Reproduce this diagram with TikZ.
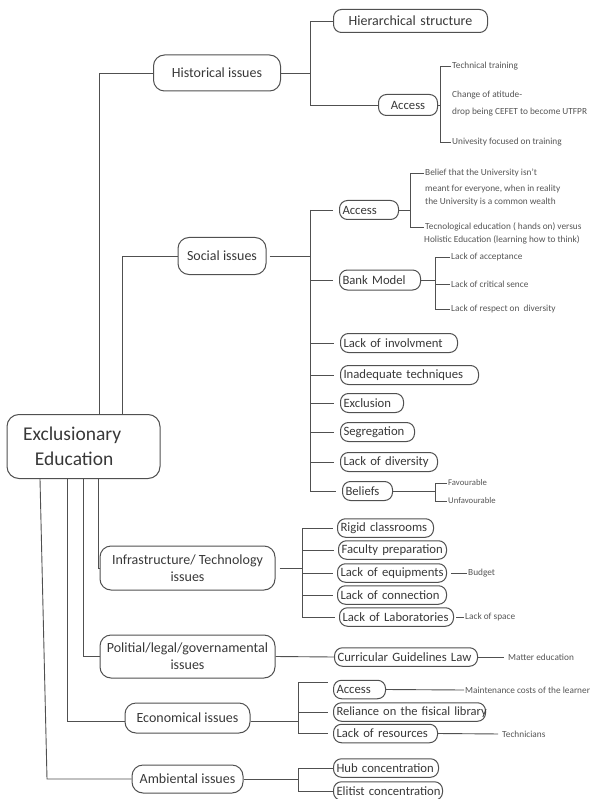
\documentclass[tikz,border=0pt]{standalone}
\usepackage{fontspec}
\setmainfont{Carlito}
\definecolor{linec}{HTML}{505050}
\definecolor{txtc}{HTML}{383838}
\definecolor{leafc}{HTML}{555555}
\begin{document}
\begin{tikzpicture}[x=1pt,y=-1pt,
  ln/.style={draw=linec, line width=0.9pt},
  mainbox/.style={draw=linec, line width=1pt, rounded corners=12pt, minimum height=64pt, inner sep=0pt, text=txtc, font=\fontsize{19.5}{25}\selectfont, align=left, text width=153pt},
  lvl/.style={draw=linec, line width=1pt, rounded corners=11pt, inner sep=0pt, text=txtc, font=\fontsize{14}{17}\selectfont, align=center},
  pill/.style={draw=linec, line width=1pt, rounded corners=8pt, inner xsep=3pt, inner ysep=0pt, minimum height=18.5pt, text=txtc, font=\fontsize{12.7}{15}\selectfont, align=left, anchor=west, text width=#1},
  leaf/.style={text=leafc, font=\fontsize{9.3}{11}\selectfont, inner xsep=1pt, inner ysep=0.5pt, anchor=west}
]
\useasboundingbox (0,0) rectangle (593,799);

% main node
\node[mainbox] (main) at (83.5,446.5) {\hspace*{16pt}Exclusionary\\\hspace*{28pt}Education};

% level 1
\node[lvl, minimum width=127pt, minimum height=36pt] (hist) at (217,73) {Historical issues};
\node[lvl, minimum width=88pt, minimum height=37pt] (soc) at (222,256) {Social issues};
\node[lvl, minimum width=175pt, minimum height=44pt] (infra) at (187.5,568) {Infrastructure/ Technology\\issues};
\node[lvl, minimum width=175pt, minimum height=43pt] (pol) at (187.5,656.5) {Politial/legal/governamental\\issues};
\node[lvl, minimum width=125pt, minimum height=30pt] (eco) at (187.5,718) {Economical issues};
\node[lvl, minimum width=111pt, minimum height=28pt] (amb) at (187.5,779) {Ambiental issues};

% historical children
\node[pill=148pt, align=center, font=\fontsize{14}{16}\selectfont, minimum height=23pt] (hier) at (333,21) {\mbox{Hierarchical structure}};
\node[pill=53pt, align=center, minimum height=21pt] (hacc) at (378,105) {\mbox{Access}};

% social children
\node[pill=53pt, minimum height=19pt] (sacc) at (339,210) {\mbox{Access}};
\node[pill=75pt, minimum height=20pt] (bank) at (339,280) {\mbox{Bank Model}};
\node[pill=111pt, minimum height=19pt] (inv) at (340,343) {\mbox{Lack of involvment}};
\node[pill=132pt, minimum height=19pt] (inad) at (340,375) {\mbox{Inadequate techniques}};
\node[pill=57pt, minimum height=19pt] (excl) at (340,403) {\mbox{Exclusion}};
\node[pill=68pt, minimum height=19pt] (seg) at (340,432) {\mbox{Segregation}};
\node[pill=91pt, minimum height=19pt] (ldiv) at (340,462) {\mbox{Lack of diversity}};
\node[pill=44pt, minimum height=19pt] (beli) at (342,491) {\mbox{Beliefs}};

% infrastructure children
\node[pill=90pt] (rig) at (337,528) {\mbox{Rigid classrooms}};
\node[pill=102pt] (fac) at (338,550) {\mbox{Faculty preparation}};
\node[pill=103pt] (equ) at (337,573) {\mbox{Lack of equipments}};
\node[pill=103pt] (con) at (337,595) {\mbox{Lack of connection}};
\node[pill=108pt] (lab) at (339,617) {\mbox{Lack of Laboratories}};

% political child
\node[pill=137pt] (cur) at (334,657) {\mbox{Curricular Guidelines Law}};

% economical children
\node[pill=46pt] (eacc) at (333,689.5) {\mbox{Access}};
\node[pill=146pt, font=\fontsize{12.5}{14}\selectfont] (rel) at (333,712) {\mbox{Reliance on the fisical library}};
\node[pill=98pt] (res) at (333,733.5) {\mbox{Lack of resources}};

% ambiental children
\node[pill=99pt] (hub) at (333,768) {\mbox{Hub concentration}};
\node[pill=103pt] (eli) at (333,791) {\mbox{Elitist concentration}};

% leaves
\node[leaf] (tt) at (451,66) {Technical training};
\node[leaf] (ch1) at (451,95) {Change of atitude-};
\node[leaf] (ch2) at (451,112) {drop being CEFET to become UTFPR};
\node[leaf] (uf) at (451,142) {Univesity focused on training};
\node[leaf] (b1) at (424,173) {Belief that the University isn’t};
\node[leaf] (b2) at (424,189) {meant for everyone, when in reality};
\node[leaf] (b3) at (424,202) {the University is a common wealth};
\node[leaf] (t1) at (424,227) {Tecnological education ( hands on) versus};
\node[leaf] (t2) at (423,240) {Holistic Education (learning how to think)};
\node[leaf] (la) at (450,257) {Lack of acceptance};
\node[leaf] (lc) at (450,284) {Lack of critical sence};
\node[leaf] (lr) at (450,309) {Lack of respect on~ diversity};
\node[leaf, font=\fontsize{8.7}{10}\selectfont] (fav) at (447,483) {Favourable};
\node[leaf, font=\fontsize{8.7}{10}\selectfont] (unf) at (447,501) {Unfavourable};
\node[leaf] (bud) at (467,573) {Budget};
\node[leaf] (los) at (464,617) {Lack of space};
\node[leaf] (me) at (507,657) {Matter education};
\node[leaf] (mc) at (464,690) {Maintenance costs of the learner};
\node[leaf] (tech) at (501,734) {Technicians};

% coordinates for trunks and brackets
\coordinate (xh) at (99,0);
\coordinate (xs) at (122,0);
\coordinate (xi) at (98,0);
\coordinate (xp) at (83,0);
\coordinate (xe) at (67,0);
\coordinate (xa) at (40,0);
\coordinate (xab) at (47,0);
\coordinate (hB) at (310,0);
\coordinate (haB) at (440,0);
\coordinate (sB) at (310,0);
\coordinate (saB) at (410,0);
\coordinate (bB) at (435,0);
\coordinate (fB) at (435,0);
\coordinate (iB) at (302,0);
\coordinate (eB) at (298,0);
\coordinate (aB) at (298,0);

% main to level 1
\draw[ln] (main.north -| xh) |- (hist.west);
\draw[ln] (main.north -| xs) |- (soc.west);
\draw[ln] (main.south -| xi) |- (infra.west);
\draw[ln] (main.south -| xp) |- (pol.west);
\draw[ln] (main.south -| xe) |- ([yshift=-3pt]eco.west);
\draw[ln] (main.south -| xa) -- (amb.west -| xab) -- (amb.west);

% historical
\draw[ln] (hist.east) -- (hist.east -| hB);
\draw[ln] (hier.west) -- (hier.west -| hB) -- (hacc.west -| hB) -- (hacc.west);
\draw[ln] (hacc.east) -- (hacc.east -| haB);
\draw[ln] (tt.west) -- (tt.west -| haB) -- (uf.west -| haB) -- (uf.west);

% social
\draw[ln, shorten <=3pt] (soc.east) -- (soc.east -| sB);
\draw[ln] (sacc.west -| sB) -- (beli.west -| sB);
\foreach \n in {sacc,bank,inv,inad,excl,seg,ldiv,beli}
  \draw[ln, shorten >=6pt] (\n.west -| sB) -- (\n.west);
\draw[ln] (sacc.east) -- (sacc.east -| saB);
\draw[ln] (b1.west) -- (b1.west -| saB) -- (t1.west -| saB) -- (t1.west);
\draw[ln] (bank.east) -- (bank.east -| bB);
\draw[ln] (la.west) -- (la.west -| bB) -- (lr.west -| bB) -- (lr.west);
\draw[ln] (lc.west -| bB) -- (lc.west);
\draw[ln] (beli.east) -- (beli.east -| fB);
\draw[ln] (fav.west) -- (fav.west -| fB) -- (unf.west -| fB) -- (unf.west);

% infrastructure
\draw[ln, shorten <=4pt] (infra.east) -- (infra.east -| iB);
\draw[ln] (rig.west -| iB) -- (lab.west -| iB);
\foreach \n in {rig,fac,equ,con,lab}
  \draw[ln, shorten >=4pt] (\n.west -| iB) -- (\n.west);
\draw[ln, shorten <=4pt] (equ.east) -- (bud.west);
\draw[ln, shorten <=2pt] (lab.east) -- (los.west);

% political
\draw[ln] (pol.east) -- (cur.west);
\draw[ln, shorten >=3pt] (cur.east) -- (me.west);

% economical
\draw[ln] ([yshift=-3pt]eco.east) -- ([yshift=-3pt]eco.east -| eB);
\draw[ln] ([yshift=7pt]eacc.west -| eB) -- (res.west -| eB);
\draw[ln, shorten >=5pt] ([yshift=7pt]eacc.west -| eB) -- ([yshift=7pt]eacc.west);
\draw[ln, shorten >=5pt] (rel.west -| eB) -- (rel.west);
\draw[ln, shorten >=5pt] (res.west -| eB) -- (res.west);
\draw[ln] (eacc.east) -- (mc.west);
\draw[ln, shorten >=3pt] (res.east) -- (tech.west);

% ambiental
\draw[ln] (amb.east) -- (amb.east -| aB);
\draw[ln] (hub.west) -- (hub.west -| aB) -- (eli.west -| aB) -- (eli.west);
\end{tikzpicture}
\end{document}
